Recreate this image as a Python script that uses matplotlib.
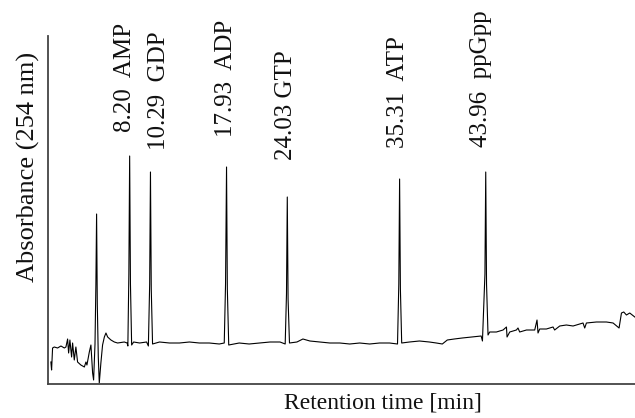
import numpy as np
import matplotlib.pyplot as plt

# chromatogram trace (time in min, absorbance in arbitrary units)
time_min = [
    0.29, 0.36, 0.46, 0.63, 0.96, 1.30, 1.64, 1.80, 1.97, 2.07, 2.20, 2.37, 2.47, 2.64,
    2.80, 2.97, 3.30, 3.65, 3.81, 3.91, 4.15, 4.31, 4.48, 4.58, 4.72, 4.81, 4.88, 4.95,
    5.05, 5.15, 5.31, 5.48, 5.66, 5.82, 5.99, 6.32, 6.66, 6.99, 7.66, 7.95,
    8.02, 8.12, 8.20, 8.28, 8.40, 8.60, 9.20, 9.90,
    10.08, 10.21, 10.29, 10.37, 10.50, 11.2, 12.2, 13.2, 14.2, 15.2, 16.2, 17.2, 17.70,
    17.83, 17.93, 18.01, 18.15, 19.2, 20.2, 21.2, 22.3, 23.3, 23.82,
    23.95, 24.03, 24.11, 24.25, 25.0, 25.6, 26.3, 27.3, 28.3, 29.3, 30.3, 31.3, 32.3,
    33.3, 34.3, 35.10,
    35.23, 35.31, 35.39, 35.52, 36.3, 37.3, 38.3, 39.0, 39.6, 40.1, 40.8, 41.6, 42.6,
    43.5, 43.63,
    43.88, 43.96, 44.04, 44.19, 44.36, 45.03, 45.70, 46.04, 46.10, 46.37, 47.04, 47.20,
    47.37, 48.05, 48.88, 49.11, 49.21, 49.38, 50.05, 50.72, 50.88, 51.39, 52.06, 52.73,
    53.73, 53.90, 54.07, 55.08, 56.08, 56.75, 57.35, 57.59, 57.82, 58.09, 58.42, 58.93,
]
absorbance = [
    22, 14, 36, 37, 36, 38, 36, 37, 45, 31, 44, 27, 41, 24,
    37, 22, 19, 17, 22, 19, 32, 39, 11, 4, 40, 100, 170, 80,
    27, 1, 21, 39, 47, 51, 47, 44, 42, 41, 42, 41,
    38, 110, 228, 100, 39, 42, 41, 42,
    38, 100, 212, 95, 40, 42, 41, 41, 42, 41, 41, 40, 41,
    100, 217, 95, 39, 41, 40, 41, 42, 42, 40,
    90, 187, 85, 41, 42, 45, 43, 42, 41, 41, 40, 41, 40,
    41, 41, 40,
    100, 205, 95, 41, 42, 43, 42, 41, 40, 44, 45, 46, 47,
    48, 43,
    110, 212, 100, 49, 52, 52, 54, 57, 47, 52, 54, 56,
    52, 54, 54, 64, 51, 55, 55, 57, 54, 58, 59, 58,
    61, 56, 61, 62, 62, 61, 56, 71, 72, 69, 71, 67,
]

peak_names = ['AMP', 'GDP', 'ADP', 'GTP', 'ATP', 'ppGpp']
peak_rt = [8.20, 10.29, 17.93, 24.03, 35.31, 43.96]
peak_gap = ['  ', '  ', '  ', ' ', '  ', '  ']

# label placement (column centre in min, bottom of text in absorbance units)
label_x = [7.69, 11.11, 17.84, 23.87, 35.12, 43.45]
label_y = [252, 234, 247, 224, 236, 237]

plt.rcParams['font.family'] = ['Liberation Serif', 'DejaVu Serif']

fig = plt.figure(figsize=(6.35, 4.18), dpi=100)
ax = fig.add_axes([48 / 635, 34 / 418, 587 / 635, 348 / 418])

ax.plot(time_min, absorbance, color='black', lw=0.8)

for name, rt, gap, lx, ly in zip(peak_names, peak_rt, peak_gap, label_x, label_y):
    ax.text(lx, ly, f'{rt:.2f}{gap}{name}', rotation=90, ha='center', va='bottom',
            fontsize=18, color='#111111', clip_on=False)

ax.set_xlim(0, 58.95)
ax.set_ylim(0, 348)
ax.set_xticks([])
ax.set_yticks([])
for side in ['top', 'right']:
    ax.spines[side].set_visible(False)
for side in ['left', 'bottom']:
    ax.spines[side].set_color('#444444')
    ax.spines[side].set_linewidth(1.3)

fig.text(28 / 635, 1 - 167 / 418, 'Absorbance (254 nm)', rotation=90,
         ha='center', va='center', fontsize=19, color='#111111')
fig.text(383 / 635, 1 - 403 / 418, 'Retention time [min]',
         ha='center', va='center', fontsize=17, color='#111111')

fig.savefig('out.png', dpi=100)
